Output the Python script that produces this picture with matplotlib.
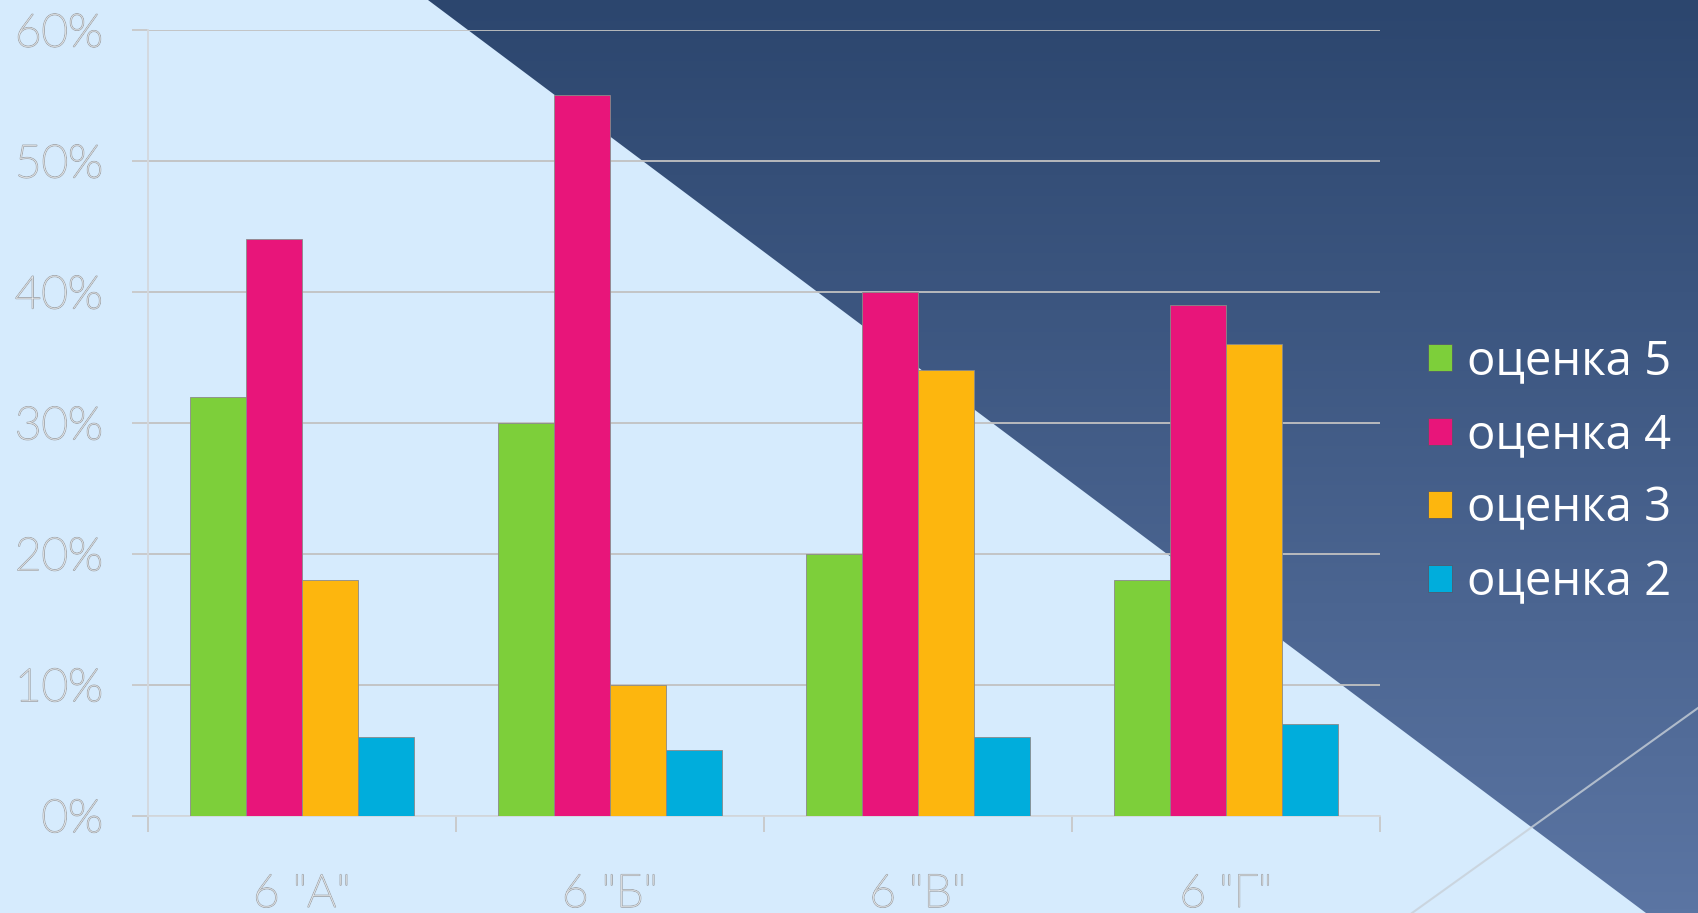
import numpy as np
import matplotlib.pyplot as plt
import matplotlib.patheffects as pe
from matplotlib.patches import Polygon, Patch
from matplotlib.ticker import PercentFormatter

# данные
classes = ['6 "А"', '6 "Б"', '6 "В"', '6 "Г"']
grade5 = [32, 30, 20, 18]
grade4 = [44, 55, 40, 39]
grade3 = [18, 10, 34, 36]
grade2 = [6, 5, 6, 7]
series = [grade5, grade4, grade3, grade2]
series_names = ['оценка 5', 'оценка 4', 'оценка 3', 'оценка 2']
colors = ['#7DCF3A', '#E8157A', '#FDB60E', '#00ADDC']
yticks = [0, 10, 20, 30, 40, 50, 60]

plt.rcParams['font.family'] = ['Lato', 'Noto Sans', 'DejaVu Sans']

W, H = 1698, 913
fig = plt.figure(figsize=(W / 100, H / 100), dpi=100)
fig.patch.set_facecolor('#D6EBFD')

# фон: тёмный треугольник с градиентом
bg = fig.add_axes([0, 0, 1, 1], zorder=0)
grad = np.linspace(0, 1, 256)[:, None, None]
top = np.array([0x2C, 0x46, 0x6E]) / 255
bot = np.array([0x5B, 0x75, 0xA3]) / 255
img = top * (1 - grad) + bot * grad
im = bg.imshow(img, extent=[0, W, H, 0], aspect='auto')
tri = Polygon([(428, 0), (W, 0), (W, H), (1646, H)], closed=True,
              facecolor='none', edgecolor='none', transform=bg.transData)
bg.add_patch(tri)
im.set_clip_path(tri)
bg.plot([W, 1412], [708, H], color='#C8D0D8', lw=1.5, alpha=0.8)
bg.set_xlim(0, W)
bg.set_ylim(H, 0)
bg.axis('off')

# диаграмма
ax = fig.add_axes([148 / W, 1 - 815.5 / H, (1380 - 148) / W, (815.5 - 30) / H], zorder=1)
ax.patch.set_alpha(0)

x = np.arange(len(classes))
w = 1 / 5.5
for i, vals in enumerate(series):
    ax.bar(x + (i - 1.5) * w, vals, w, color=colors[i], edgecolor='#8A8A8A',
           linewidth=0.6, zorder=3)

ax.set_xlim(-0.5, 3.5)
ax.set_ylim(0, 60)
ax.set_yticks(yticks)
ax.yaxis.set_major_formatter(PercentFormatter(decimals=0))
ax.yaxis.grid(True, color='#C2C2C2', lw=1.3)
ax.set_axisbelow(True)

for s in ['top', 'right']:
    ax.spines[s].set_visible(False)
for s in ['left', 'bottom']:
    ax.spines[s].set_color('#D3D8DD')
    ax.spines[s].set_linewidth(1.3)

ax.set_xticks(x, classes)
ax.set_xticks(np.arange(-0.5, 4, 1), minor=True)
ax.tick_params(axis='x', which='major', length=0, pad=42, labelsize=33, labelcolor='white')
ax.tick_params(axis='x', which='minor', length=11.5, width=1.3, color='#C8C8C8')
ax.tick_params(axis='y', length=11.5, width=1.3, color='#C8C8C8', pad=21,
               labelsize=33, labelcolor='white')

for lbl in ax.get_xticklabels() + ax.get_yticklabels():
    lbl.set_fontweight('light')
    lbl.set_path_effects([pe.withStroke(linewidth=1.2, foreground='#A8AEB4')])

handles = [Patch(facecolor=c, edgecolor='#505A70', lw=0.6) for c in colors]
ax.legend(handles, series_names, loc='center left',
          bbox_to_anchor=(1428 / W, 1 - 472 / H), bbox_transform=fig.transFigure,
          frameon=False, labelcolor='white',
          prop={'family': ['Open Sans', 'Noto Sans'], 'size': 34},
          handlelength=0.5, handleheight=0.5, handletextpad=0.33,
          labelspacing=0.55, borderpad=0, borderaxespad=0)

fig.savefig('out.png', dpi=100)
